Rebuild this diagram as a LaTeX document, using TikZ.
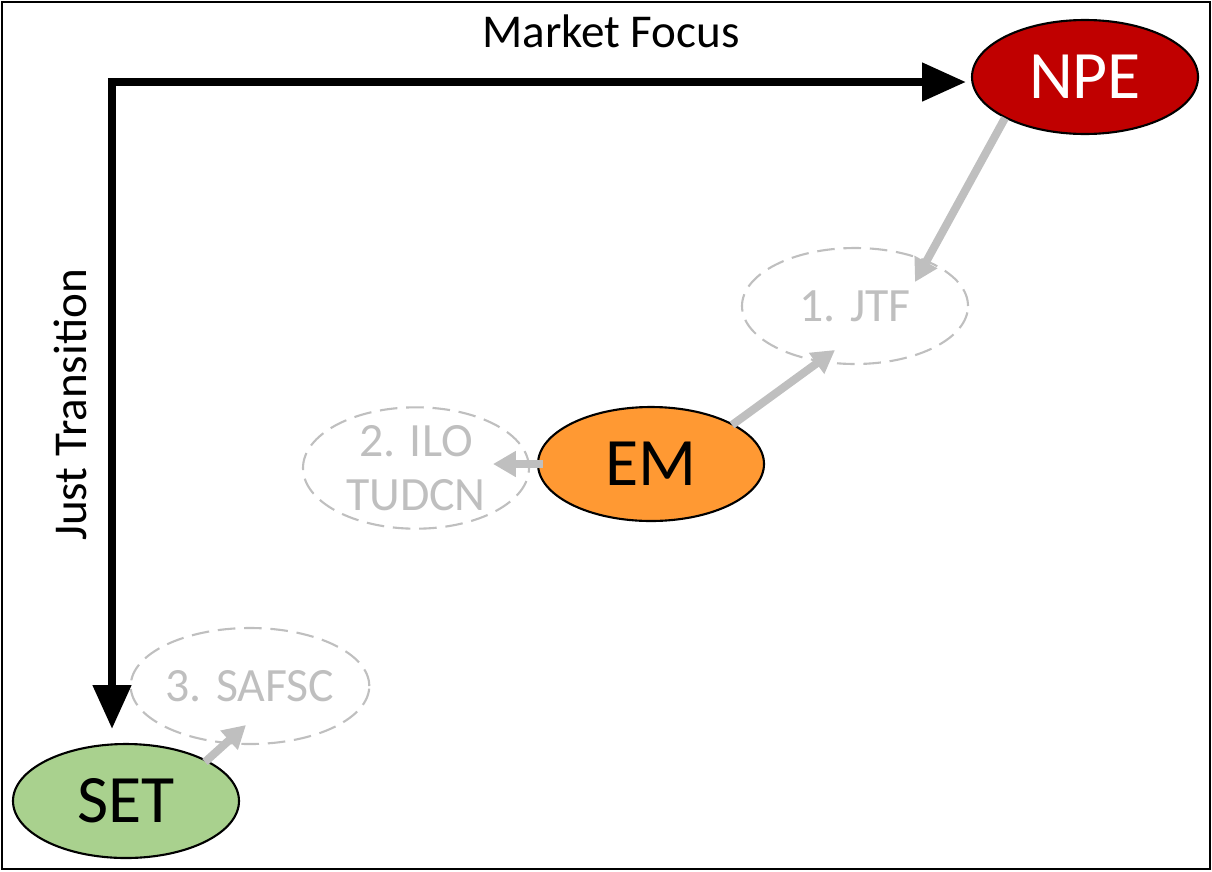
\documentclass[tikz,border=0pt]{standalone}
\usepackage{fontspec}
\setmainfont{Carlito}
\usetikzlibrary{shapes.geometric,arrows.meta}
\definecolor{npered}{HTML}{C00000}
\definecolor{emorange}{HTML}{FF9933}
\definecolor{setgreen}{HTML}{A9D18E}
\definecolor{lightgray}{HTML}{BFBFBF}
\tikzset{
  mainell/.style={ellipse, draw=black, line width=0.6pt, minimum width=22.6mm, minimum height=11.4mm, inner sep=0pt, font=\fontsize{19.3}{22}\selectfont},
  ghostell/.style={ellipse, draw=lightgray, dashed, dash pattern=on 5pt off 2.5pt, line width=0.6pt, minimum width=22.6mm, minimum height=11.6mm, inner sep=0pt, text=lightgray, font=\fontsize{13.6}{15.5}\selectfont, align=center},
  axisarrow/.style={line width=2.3pt, -{Triangle[length=12.5pt,width=10.5pt]}},
  grayarrow/.style={draw=lightgray, line width=2.3pt, -{Triangle[length=6.5pt,width=7pt]}},
  axislabel/.style={font=\fontsize{13.4}{15}\selectfont}
}
\begin{document}
\begin{tikzpicture}[x=0.1mm,y=-0.1mm]
\useasboundingbox (0,0) rectangle (1212,871);
\draw[line width=0.7pt] (2,2) rectangle (1210,869);
% main nodes
\node[mainell, fill=npered, text=white] (npe) at (1085,77) {NPE};
\node[mainell, fill=emorange] (em) at (651,464) {EM};
\node[mainell, fill=setgreen] (set) at (126,801) {SET};
% ghost nodes
\node[ghostell] (jtf) at (855,306) {1. JTF};
\node[ghostell] (ilo) at (416,468) {2. ILO\\TUDCN};
\node[ghostell] (safsc) at (250,686) {3. SAFSC};
% axes
\coordinate (corner) at (112,82);
\coordinate (xend) at (966,82);
\coordinate (yend) at (112,729);
\draw[axisarrow] ([xshift=-1.15pt] corner) -- (xend);
\draw[axisarrow] (corner) -- (yend);
\node[axislabel] (mf) at (611,31) {Market Focus};
\node[axislabel, rotate=90] (jt) at (70,405) {Just Transition};
% gray arrows
\coordinate (a1s) at (1005,118);
\coordinate (a1e) at (915,282);
\draw[grayarrow] (a1s) -- (a1e);
\coordinate (a2s) at (732,425);
\coordinate (a2e) at (835,350);
\draw[grayarrow] (a2s) -- (a2e);
\coordinate (a3s) at (543,464);
\coordinate (a3e) at (493,464);
\draw[grayarrow] (a3s) -- (a3e);
\coordinate (a4s) at (205,762);
\coordinate (a4e) at (246,725);
\draw[grayarrow] (a4s) -- (a4e);
\end{tikzpicture}
\end{document}
